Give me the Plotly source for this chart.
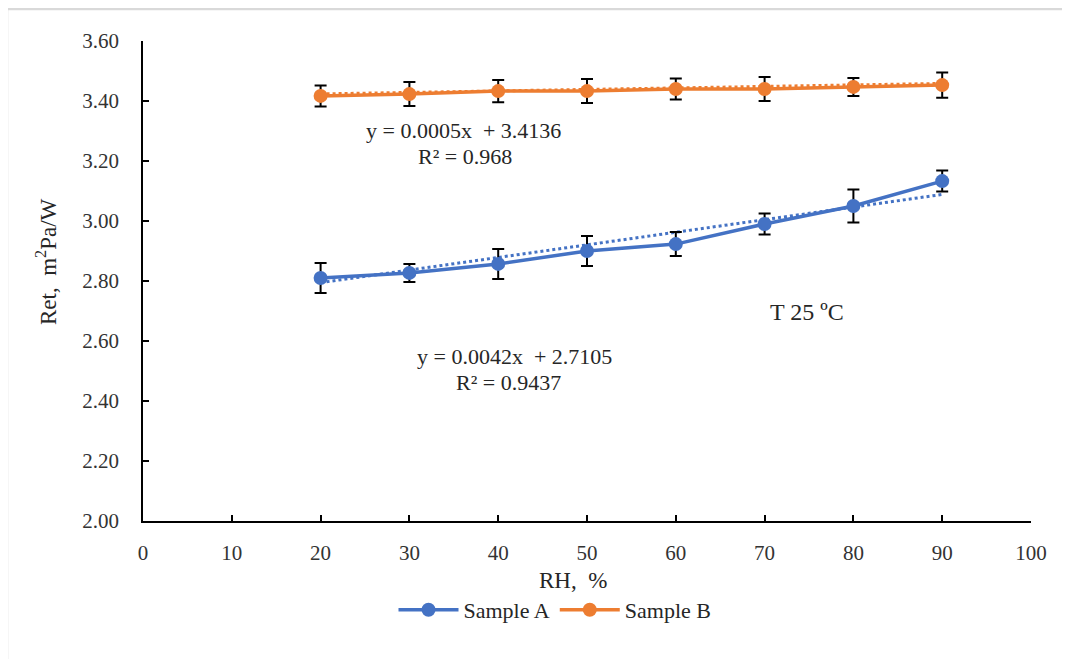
import plotly.graph_objects as go

# ---- data ----
rh = [20, 30, 40, 50, 60, 70, 80, 90]
sample_a = [2.81, 2.827, 2.857, 2.90, 2.923, 2.99, 3.05, 3.133]
sample_a_err = [0.05, 0.03, 0.05, 0.05, 0.04, 0.035, 0.055, 0.035]
sample_b = [3.417, 3.423, 3.433, 3.433, 3.44, 3.44, 3.447, 3.453]
sample_b_err = [0.035, 0.04, 0.037, 0.04, 0.035, 0.04, 0.03, 0.042]
trend_a = (0.0042, 2.7105)
trend_b = (0.0005, 3.4136)
r2_a = 0.9437
r2_b = 0.968
x_ticks = list(range(0, 101, 10))
y_ticks = [2.00, 2.20, 2.40, 2.60, 2.80, 3.00, 3.20, 3.40, 3.60]

BLUE = "#4472C4"
ORANGE = "#ED7D31"
FONT = "Liberation Serif, Times New Roman, serif"
TXT = "#262626"

fig = go.Figure()

def add_series(name, y, err, color, trend):
    fig.add_trace(go.Scatter(
        x=rh, y=[trend[0] * x + trend[1] for x in rh], mode="lines",
        line=dict(color=color, width=3, dash="dot"), showlegend=False, hoverinfo="skip"))
    fig.add_trace(go.Scatter(
        x=rh, y=y, mode="lines+markers", name=name,
        line=dict(color=color, width=3.5),
        marker=dict(color=color, size=14),
        error_y=dict(type="data", array=err, visible=True, color="black",
                     thickness=2, width=6)))

add_series("Sample A", sample_a, sample_a_err, BLUE, trend_a)
add_series("Sample B", sample_b, sample_b_err, ORANGE, trend_b)

# The page has an 8px body margin; target screen positions are compensated.
OFF = 8
W, H = 1070, 659
L, R, T, B = 143 - OFF, 1031 - OFF, 41 - OFF, 521 - OFF
def px(p):
    return (p - OFF - L) / (R - L)
def py(p):
    return (B - (p - OFF)) / (B - T)

ann_font = dict(family=FONT, size=22, color=TXT)
annotations = [
    dict(x=px(463), y=py(130), text=f"y = {trend_b[0]}x  + {trend_b[1]}"),
    dict(x=px(465), y=py(156), text=f"R² = {r2_b}"),
    dict(x=px(514), y=py(356), text=f"y = {trend_a[0]}x  + {trend_a[1]}"),
    dict(x=px(508), y=py(382), text=f"R² = {r2_a}"),
    dict(x=px(807), y=py(312), text="T 25 ºC", font=dict(family=FONT, size=24, color=TXT)),
    dict(x=px(573), y=py(580), text="RH,  %", font=dict(family=FONT, size=23, color=TXT)),
    dict(x=px(46), y=py(262), text="Ret,  m<sup>2</sup>Pa/W", textangle=-90,
         font=dict(family=FONT, size=23, color=TXT)),
]
for a in annotations:
    a.setdefault("font", ann_font)
    a.update(xref="paper", yref="paper", showarrow=False, xanchor="center", yanchor="middle")

axis_common = dict(showline=True, linecolor="black", linewidth=1.5, ticks="inside",
                   ticklen=6, tickwidth=1.5, tickcolor="black", showgrid=False, zeroline=False,
                   tickfont=dict(family=FONT, size=21, color="#333333"))

fig.update_layout(
    width=W, height=H,
    margin=dict(l=L, r=W - R, t=T, b=H - B),
    font=dict(family=FONT, color=TXT),
    paper_bgcolor="white", plot_bgcolor="white",
    xaxis=dict(range=[0, 100], tickvals=x_ticks, ticklabelstandoff=12, **axis_common),
    yaxis=dict(range=[2.0, 3.6], tickvals=y_ticks, tickformat=".2f", ticklabelstandoff=18, **axis_common),
    showlegend=True,
    legend=dict(orientation="h", x=px(555), y=py(610), xanchor="center", yanchor="middle",
                font=dict(family=FONT, size=22, color=TXT), itemwidth=60,
                bgcolor="rgba(0,0,0,0)"),
    annotations=annotations,
    shapes=[dict(type="rect", xref="paper", yref="paper", x0=px(7), x1=px(1090),
                 y0=py(9), y1=py(690), line=dict(color="#d9d9d9", width=2.5), layer="below")],
)

fig.write_html("out.html")
